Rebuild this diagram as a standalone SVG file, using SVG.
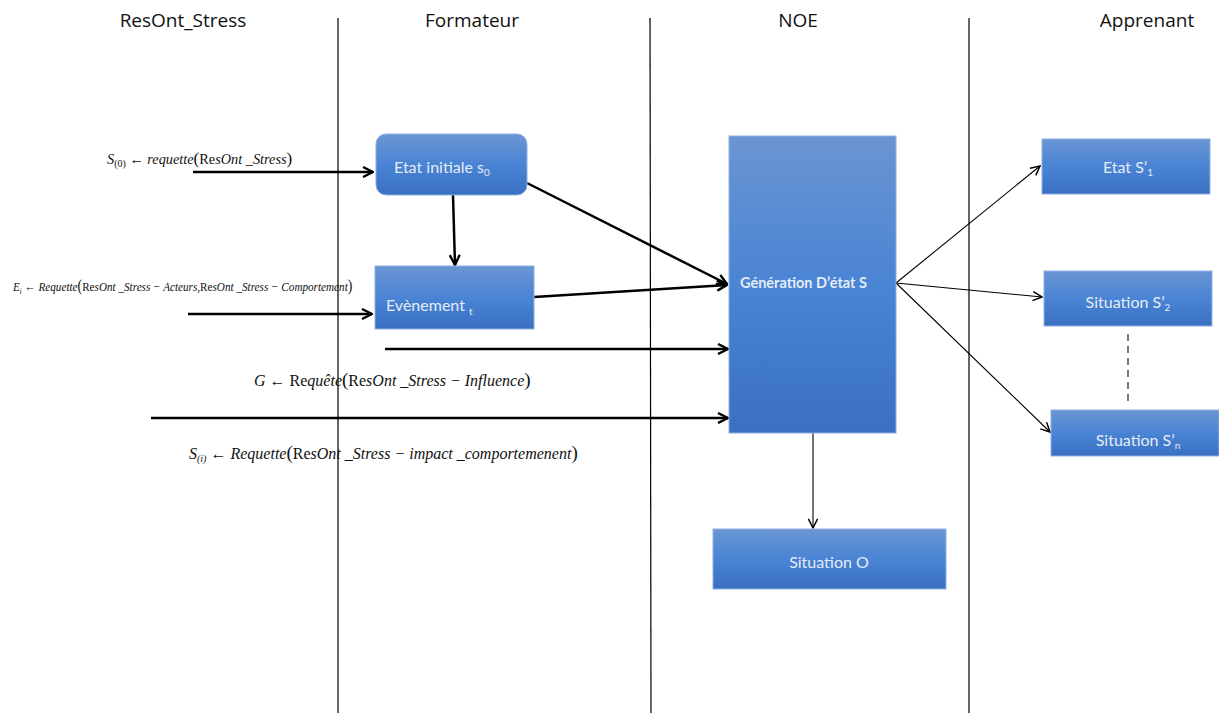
<svg xmlns="http://www.w3.org/2000/svg" width="1219" height="713" viewBox="0 0 1219 713">
<style>
.hdr{font-family:"Open Sans","DejaVu Sans",sans-serif;font-size:19px;fill:#111;text-anchor:middle}
.lane{stroke:#000;stroke-width:1.2}
.box{fill:url(#g);stroke:#8fb0e0;stroke-width:1}
.bt{font-family:Lato,"Open Sans",sans-serif;font-size:16px;fill:#e4ecf7}
.sub{font-size:10px}
.math{font-family:"Liberation Serif",serif;fill:#111;font-style:italic}
.up{font-style:normal}
.thick{stroke:#000;stroke-width:2.5;fill:none;marker-end:url(#ah)}
.thin{stroke:#000;stroke-width:1.1;fill:none;marker-end:url(#ah2)}
</style>
<defs>
<linearGradient id="g" x1="0" y1="0" x2="0" y2="1">
<stop offset="0" stop-color="#6a95d2"/>
<stop offset="0.5" stop-color="#4a84d4"/>
<stop offset="1" stop-color="#3a70c2"/>
</linearGradient>
<marker id="ah" viewBox="0 0 12 12" refX="11" refY="6" markerWidth="12" markerHeight="12" markerUnits="userSpaceOnUse" orient="auto">
<path d="M1,1 L11,6 L1,11" fill="none" stroke="#000" stroke-width="2.4"/>
</marker>
<marker id="ah2" viewBox="0 0 12 12" refX="11" refY="6" markerWidth="11" markerHeight="11" markerUnits="userSpaceOnUse" orient="auto">
<path d="M1,1 L11,6 L1,11" fill="none" stroke="#000" stroke-width="1.6"/>
</marker>
</defs>
<rect width="1219" height="713" fill="#fff"/>
<g id="lanes">
<line class="lane" x1="338" y1="18" x2="338" y2="713"/>
<line class="lane" x1="650" y1="18" x2="651" y2="713"/>
<line class="lane" x1="969" y1="18" x2="969" y2="713"/>
<text class="hdr" x="183" y="27">ResOnt_Stress</text>
<text class="hdr" x="472" y="27">Formateur</text>
<text class="hdr" x="798" y="27">NOE</text>
<text class="hdr" x="1147" y="27">Apprenant</text>
</g>
<g id="connectors">
<line class="thick" x1="193" y1="172" x2="373" y2="172"/>
<line class="thick" x1="453" y1="195" x2="455" y2="265"/>
<line class="thick" x1="527" y1="183" x2="727" y2="284"/>
<line class="thick" x1="534" y1="297" x2="727" y2="285"/>
<line class="thick" x1="188" y1="314" x2="372" y2="314"/>
<line class="thick" x1="385" y1="349" x2="728" y2="349"/>
<line class="thick" x1="151" y1="418" x2="728" y2="418"/>
<line class="thin" x1="896" y1="283" x2="1040" y2="166"/>
<line class="thin" x1="896" y1="283" x2="1042" y2="297"/>
<line class="thin" x1="896" y1="283" x2="1050" y2="432"/>
<line class="thin" x1="813" y1="433" x2="813" y2="528"/>
<line x1="1128" y1="334" x2="1128" y2="402" stroke="#333" stroke-width="1.3" stroke-dasharray="7,5"/>
</g>
<g id="labels">
<text class="math" x="107" y="164" style="font-size:14.3px">S<tspan class="sub up" dy="3">(0)</tspan><tspan class="up" dy="-3"> ← </tspan>requette<tspan class="up" style="font-size:17px">(</tspan><tspan class="up">Re</tspan>sOnt _Stress<tspan class="up" style="font-size:17px">)</tspan></text>
<text class="math" transform="translate(13,291) scale(0.86,1)" x="0" y="0" style="font-size:13px">E<tspan style="font-size:8px" dy="3">i</tspan><tspan class="up" dy="-3"> ← </tspan>Requette<tspan class="up" style="font-size:16px">(</tspan><tspan class="up">Re</tspan>sOnt _Stress − Acteurs,<tspan class="up">Re</tspan>sOnt _Stress − Comportement<tspan class="up" style="font-size:16px">)</tspan></text>
<text class="math" x="254" y="386" style="font-size:16px">G<tspan class="up"> ← Re</tspan>quête<tspan class="up" style="font-size:19px">(</tspan><tspan class="up">Re</tspan>sOnt _Stress − Influence<tspan class="up" style="font-size:19px">)</tspan></text>
<text class="math" x="189" y="459" style="font-size:16px">S<tspan style="font-size:10px" dy="3">(i)</tspan><tspan class="up" dy="-3"> ← </tspan>Requette<tspan class="up" style="font-size:19px">(</tspan><tspan class="up">Re</tspan>sOnt _Stress − impact _comportemenent<tspan class="up" style="font-size:19px">)</tspan></text>
</g>
<g id="etat-initiale">
<rect class="box" x="376" y="134" width="151" height="61" rx="10"/>
<text class="bt" x="394" y="173">Etat initiale s<tspan class="sub" dy="3">0</tspan></text>
</g>
<g id="evenement">
<rect class="box" x="375" y="266" width="159" height="63"/>
<text class="bt" x="386" y="311">Evènement <tspan class="sub" dy="4">t</tspan></text>
</g>
<g id="generation">
<rect class="box" x="729" y="136" width="167" height="297"/>
<text class="bt" x="740" y="288" style="font-size:14.5px" font-weight="bold">Génération  D’état S</text>
</g>
<g id="situation-o">
<rect class="box" x="713" y="529" width="233" height="60"/>
<text class="bt" x="829" y="568" text-anchor="middle">Situation O</text>
</g>
<g id="etat-s1">
<rect class="box" x="1042" y="139" width="168" height="55"/>
<text class="bt" x="1128" y="173" text-anchor="middle">Etat S’<tspan class="sub" dy="3">1</tspan></text>
</g>
<g id="situation-s2">
<rect class="box" x="1044" y="271" width="168" height="55"/>
<text class="bt" x="1128" y="308" text-anchor="middle">Situation S’<tspan class="sub" dy="3">2</tspan></text>
</g>
<g id="situation-sn">
<rect class="box" x="1051" y="410" width="168" height="46"/>
<text class="bt" x="1138" y="446" text-anchor="middle">Situation S’<tspan class="sub" dy="3">n</tspan></text>
</g>
</svg>
